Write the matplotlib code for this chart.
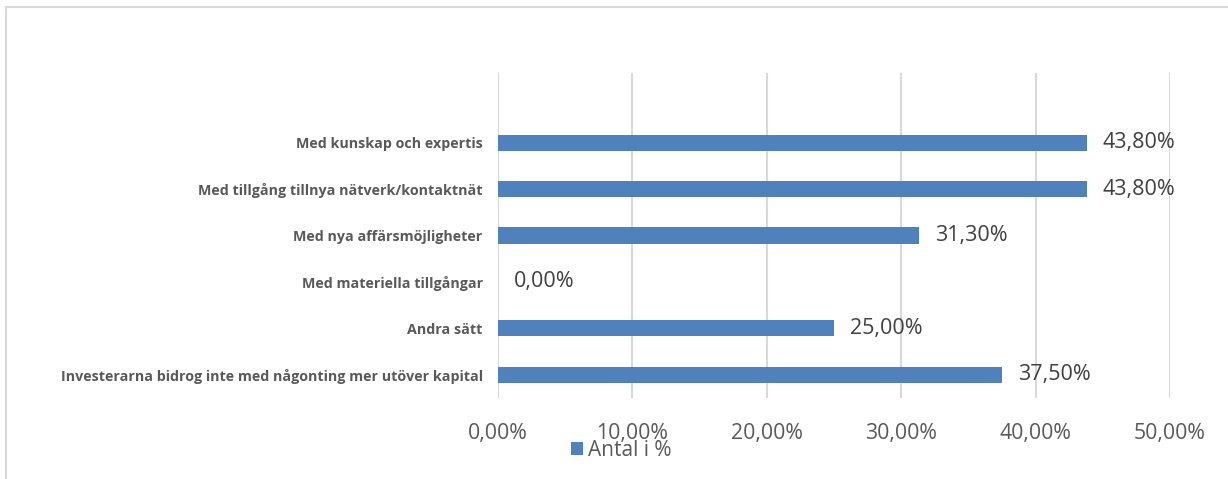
import matplotlib.pyplot as plt
from matplotlib.patches import Rectangle

# Data (top to bottom)
categories = ["Med kunskap och expertis",
              "Med tillgång tillnya nätverk/kontaktnät",
              "Med nya affärsmöjligheter",
              "Med materiella tillgångar",
              "Andra sätt",
              "Investerarna bidrog inte med någonting mer utöver kapital"]
values = [43.8, 43.8, 31.3, 0.0, 25.0, 37.5]
xticks = [0, 10, 20, 30, 40, 50]
series_name = "Antal i %"

bar_color = "#4f81bd"
text_gray = "#595959"

fig = plt.figure(figsize=(12.28, 4.79), dpi=100)
ax = fig.add_axes([498 / 1228, 1 - 398 / 479, 672 / 1228, 325 / 479])

# outer frame of the chart area (only top and left visible)
fig.patches.append(Rectangle((6 / 1228, -0.1), 1.2, 1 - 6.5 / 479 + 0.1,
                             transform=fig.transFigure, fill=False,
                             edgecolor="#d9d9d9", linewidth=1.5))

# first category at the top; one empty slot above the first bar
ypos = [len(categories) - i for i in range(len(categories))]
bars = ax.barh(ypos, values, height=0.35, color=bar_color, label=series_name)
ax.set_ylim(0.5, len(categories) + 1.5)
ax.set_xlim(0, 50)

for y, v in zip(ypos, values):
    ax.text(v + 1.2, y, f"{v:.2f}%".replace(".", ","), va="center", ha="left",
            fontsize=15.5, color="#404040", family="Open Sans")

ax.set_yticks(ypos)
ax.set_yticklabels(categories, fontsize=10.3, fontweight="bold", color=text_gray,
                   family="Open Sans")
ax.set_xticks(xticks)
ax.set_xticklabels([f"{t:.2f}%".replace(".", ",") for t in xticks],
                   fontsize=15.3, color=text_gray, family="Open Sans")
ax.tick_params(axis="x", length=0, pad=18)
ax.tick_params(axis="y", length=0, pad=11)

ax.grid(axis="x", color="#d9d9d9", linewidth=1.5)
ax.set_axisbelow(True)
for s in ax.spines.values():
    s.set_visible(False)

fig.legend(handles=[bars], labels=[series_name], loc="center",
           bbox_to_anchor=(621 / 1228, 1 - 450 / 479), frameon=False,
           handlelength=0.6, handleheight=0.6, handletextpad=0.2,
           prop={"family": "Open Sans", "size": 15}, labelcolor=text_gray)

fig.savefig("out.png", dpi=100)
